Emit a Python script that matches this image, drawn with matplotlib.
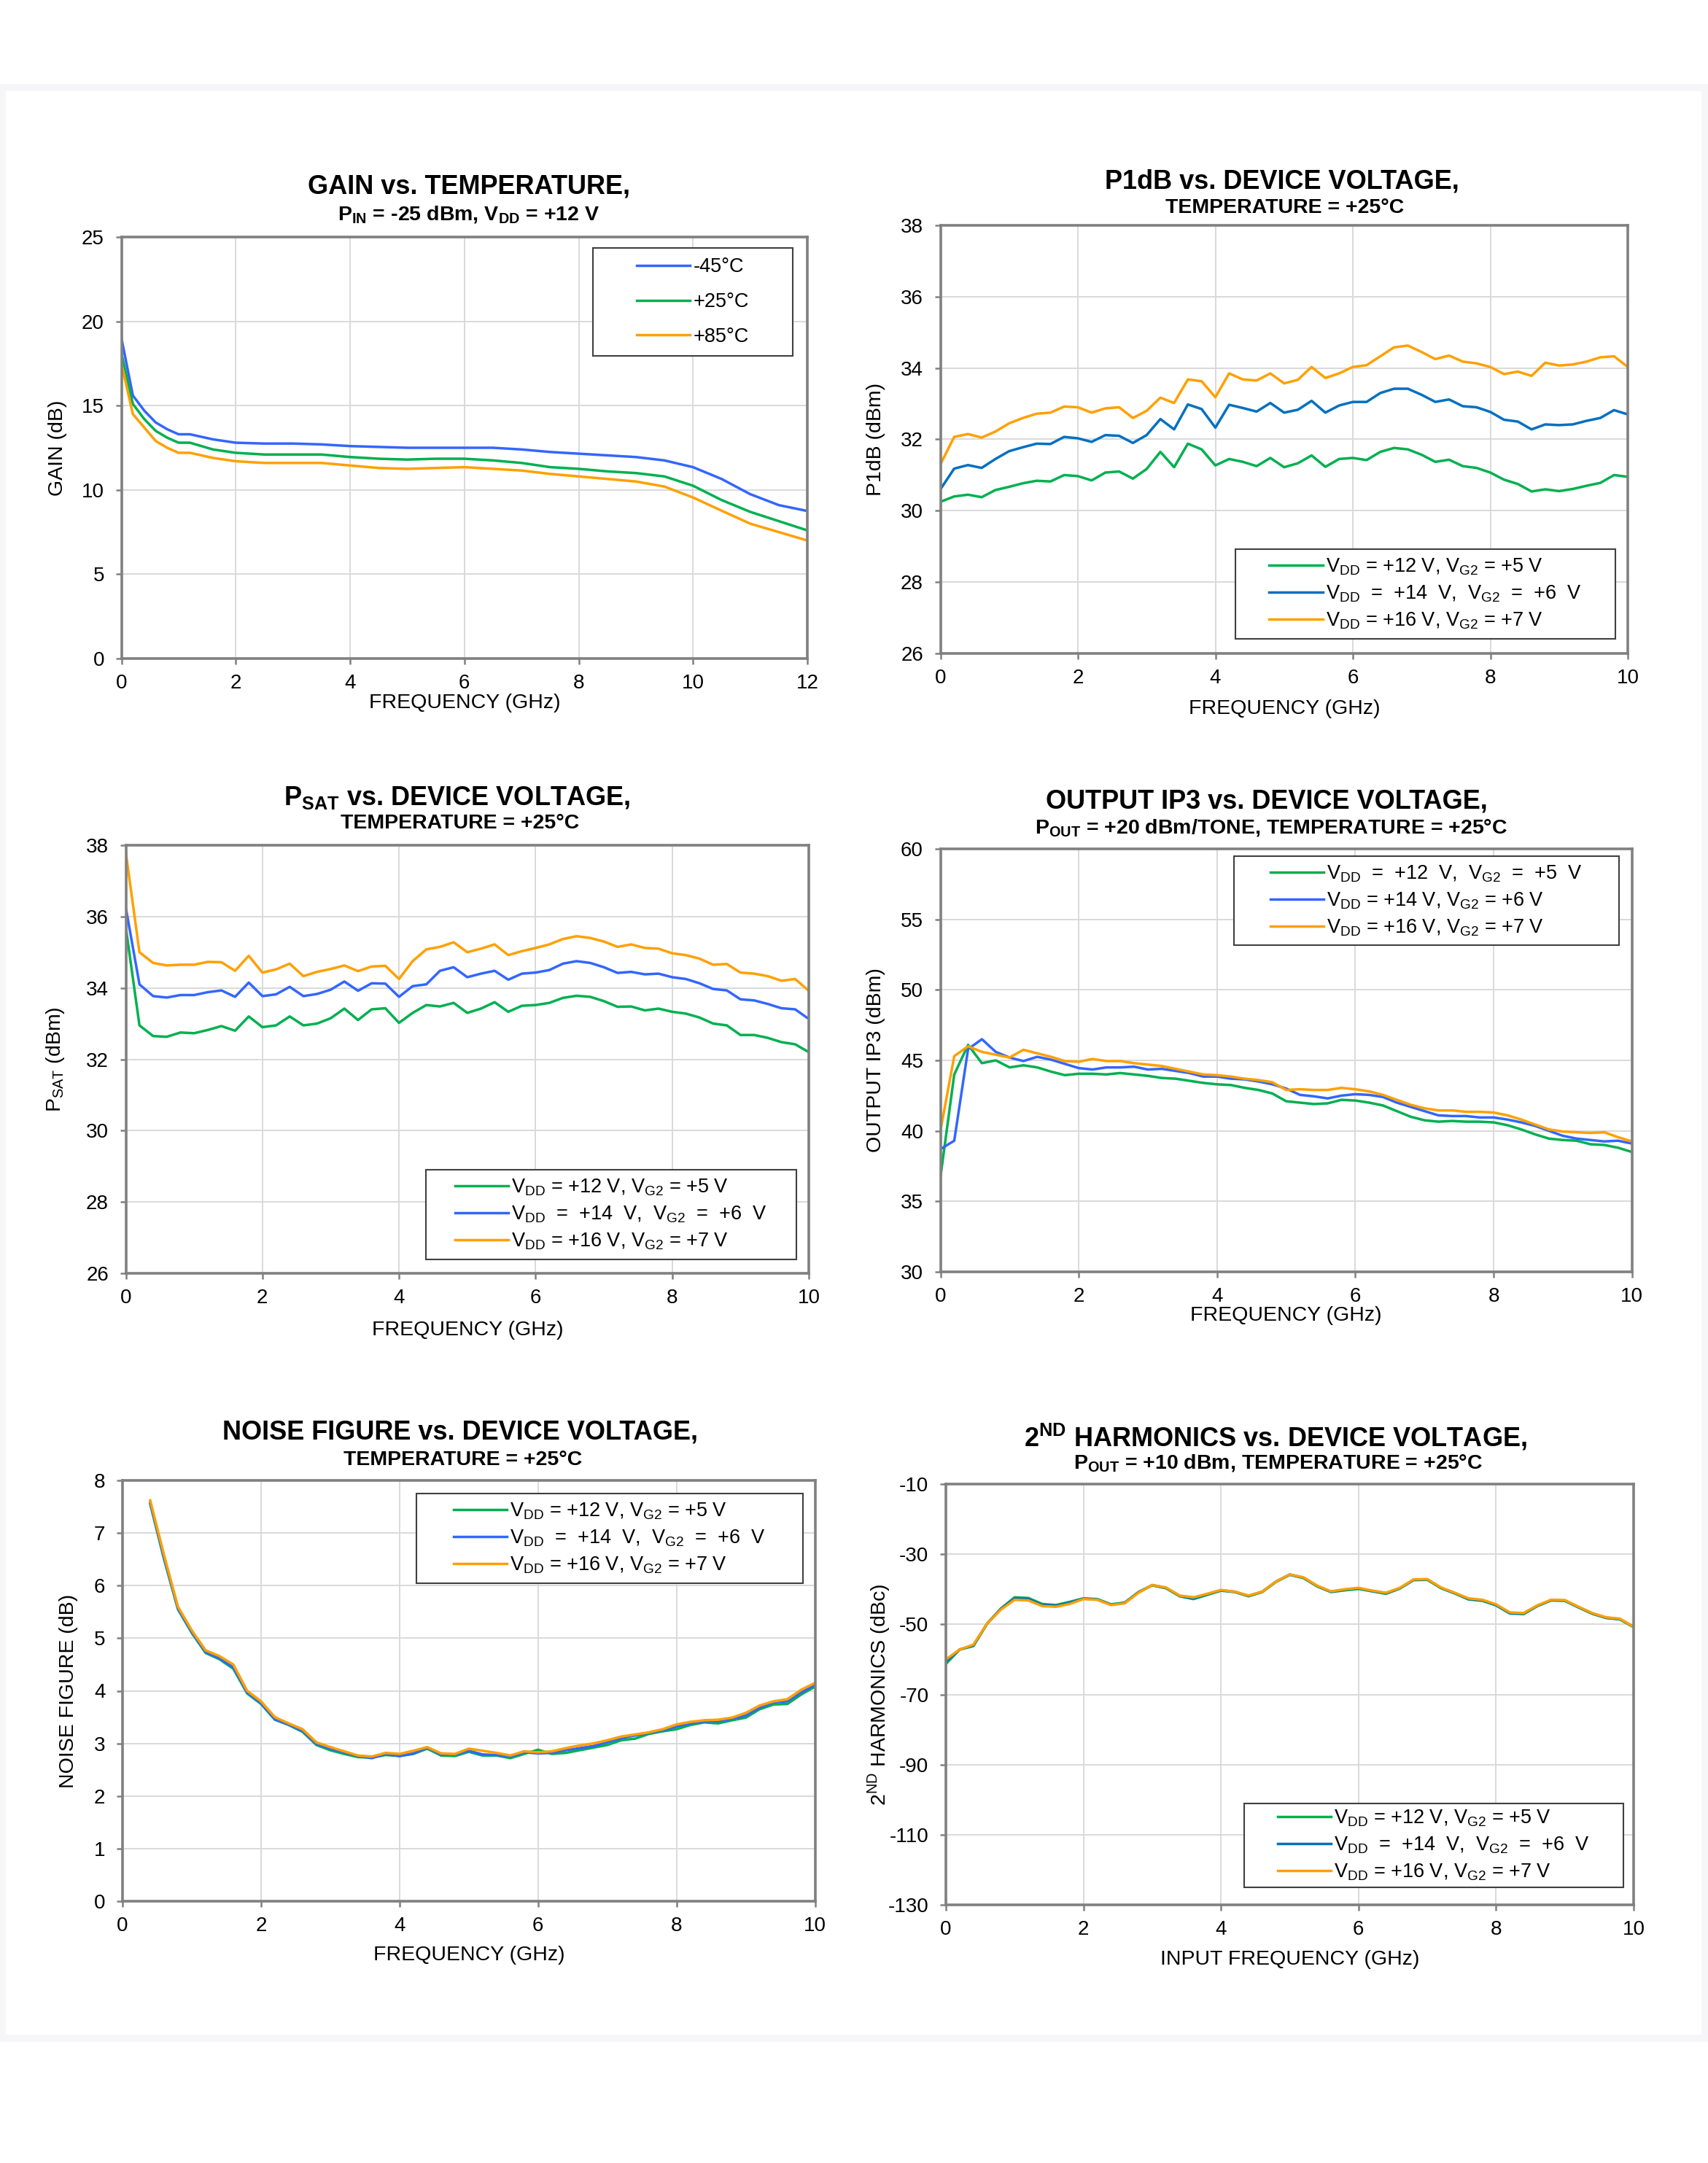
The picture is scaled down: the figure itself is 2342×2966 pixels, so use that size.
import matplotlib
matplotlib.use("Agg")
import matplotlib.pyplot as plt
import matplotlib.patches as patches

plt.rcParams['font.family'] = ['Liberation Sans', 'DejaVu Sans']
plt.rcParams['mathtext.fontset'] = 'custom'
plt.rcParams['mathtext.rm'] = 'Liberation Sans'
plt.rcParams['mathtext.bf'] = 'Liberation Sans:bold'
plt.rcParams['axes.unicode_minus'] = False

W, H = 2342, 2966

GREEN = '#00B050'
BLUE = '#3366FF'
BLUE2 = '#0070C0'
ORANGE = '#FFA000'

# ---- data ----
FREQ = [0.0, 0.2, 0.4, 0.6, 0.8, 1.0, 1.2, 1.4, 1.6, 1.8, 2.0, 2.2, 2.4, 2.6, 2.8,
        3.0, 3.2, 3.4, 3.6, 3.8, 4.0, 4.2, 4.4, 4.6, 4.8, 5.0, 5.2, 5.4, 5.6, 5.8,
        6.0, 6.2, 6.4, 6.6, 6.8, 7.0, 7.2, 7.4, 7.6, 7.8, 8.0, 8.2, 8.4, 8.6, 8.8,
        9.0, 9.2, 9.4, 9.6, 9.8, 10.0]

GAIN_FREQ = [0, 0.2, 0.4, 0.6, 0.8, 1.0, 1.2, 1.6, 2.0, 2.5, 3.0, 3.5, 4.0, 4.5, 5.0,
             5.5, 6.0, 6.5, 7.0, 7.5, 8.0, 8.5, 9.0, 9.5, 10.0, 10.5, 11.0, 11.5, 12.0]
gain_m45 = [19.0, 15.6, 14.7, 14.0, 13.6, 13.3, 13.3, 13.0, 12.8, 12.75, 12.75, 12.7, 12.6, 12.55,
            12.5, 12.5, 12.5, 12.5, 12.4, 12.25, 12.15, 12.05, 11.95, 11.75, 11.35, 10.65, 9.75,
            9.1, 8.75]
gain_p25 = [18.1, 15.1, 14.2, 13.5, 13.1, 12.8, 12.8, 12.4, 12.2, 12.1, 12.1, 12.1, 11.95, 11.85,
            11.8, 11.85, 11.85, 11.75, 11.6, 11.35, 11.25, 11.1, 11.0, 10.8, 10.25, 9.4, 8.7,
            8.15, 7.6]
gain_p85 = [17.5, 14.5, 13.7, 12.9, 12.5, 12.2, 12.2, 11.9, 11.7, 11.6, 11.6, 11.6, 11.45, 11.3,
            11.25, 11.3, 11.35, 11.25, 11.15, 10.95, 10.8, 10.65, 10.5, 10.2, 9.55, 8.77, 8.0,
            7.5, 7.0]

p1db_12v = [30.25, 30.4, 30.45, 30.38, 30.58, 30.67, 30.77, 30.84, 30.82, 31.0, 30.97, 30.85,
            31.07, 31.1, 30.9, 31.17, 31.65, 31.22, 31.88, 31.72, 31.27, 31.45, 31.37, 31.25,
            31.48, 31.22, 31.33, 31.55, 31.23, 31.45, 31.48, 31.42, 31.65, 31.76, 31.72, 31.57,
            31.37, 31.43, 31.25, 31.2, 31.07, 30.87, 30.75, 30.54, 30.6, 30.55, 30.61, 30.7,
            30.78, 31.0, 30.95]
p1db_14v = [30.6, 31.18, 31.28, 31.2, 31.45, 31.67, 31.78, 31.88, 31.87, 32.07, 32.03, 31.93,
            32.12, 32.1, 31.9, 32.12, 32.57, 32.28, 32.98, 32.85, 32.33, 32.97, 32.88, 32.78,
            33.02, 32.75, 32.83, 33.08, 32.75, 32.95, 33.05, 33.05, 33.3, 33.42, 33.42, 33.25,
            33.05, 33.12, 32.93, 32.9, 32.77, 32.55, 32.5, 32.28, 32.42, 32.4, 32.42, 32.52,
            32.6, 32.82, 32.7]
p1db_16v = [31.3, 32.07, 32.15, 32.05, 32.22, 32.45, 32.6, 32.72, 32.75, 32.92, 32.9, 32.75,
            32.87, 32.9, 32.6, 32.8, 33.17, 33.02, 33.68, 33.63, 33.18, 33.85, 33.68, 33.65,
            33.85, 33.57, 33.67, 34.03, 33.72, 33.85, 34.03, 34.08, 34.33, 34.58, 34.63, 34.45,
            34.25, 34.35, 34.18, 34.13, 34.03, 33.83, 33.9, 33.78, 34.15, 34.07, 34.1, 34.18,
            34.3, 34.33, 34.03]

psat_12v = [35.7, 32.95, 32.65, 32.63, 32.75, 32.73, 32.82, 32.93, 32.8, 33.2, 32.9, 32.95,
            33.2, 32.95, 33.0, 33.15, 33.42, 33.1, 33.4, 33.43, 33.02, 33.3, 33.52, 33.48,
            33.58, 33.3, 33.42, 33.6, 33.33, 33.5, 33.52, 33.58, 33.72, 33.78, 33.75, 33.63,
            33.47, 33.48, 33.37, 33.42, 33.33, 33.28, 33.17, 33.0, 32.95, 32.68, 32.68, 32.6,
            32.48, 32.42, 32.2]
psat_14v = [36.25, 34.1, 33.77, 33.73, 33.8, 33.8, 33.88, 33.93, 33.75, 34.15, 33.77, 33.82,
            34.03, 33.77, 33.83, 33.95, 34.18, 33.92, 34.13, 34.12, 33.75, 34.05, 34.1, 34.48,
            34.58, 34.3, 34.4, 34.48, 34.23, 34.4, 34.43, 34.5, 34.68, 34.75, 34.7, 34.58,
            34.42, 34.45, 34.38, 34.4, 34.3, 34.25, 34.13, 33.97, 33.93, 33.68, 33.65, 33.55,
            33.43, 33.4, 33.13]
psat_16v = [37.8, 35.0, 34.7, 34.63, 34.65, 34.65, 34.73, 34.72, 34.48, 34.9, 34.43, 34.52,
            34.68, 34.33, 34.45, 34.53, 34.63, 34.47, 34.6, 34.62, 34.25, 34.75, 35.08, 35.15,
            35.28, 35.0, 35.1, 35.22, 34.92, 35.03, 35.12, 35.22, 35.37, 35.45, 35.4, 35.3,
            35.15, 35.22, 35.12, 35.1, 34.97, 34.92, 34.82, 34.65, 34.67, 34.43, 34.4, 34.33,
            34.2, 34.25, 33.92]

oip3_12v = [36.7, 44.0, 46.1, 44.8, 45.0, 44.5, 44.65, 44.5, 44.2, 43.95, 44.05, 44.05, 44.0,
            44.1, 44.0, 43.9, 43.75, 43.7, 43.55, 43.4, 43.3, 43.25, 43.05, 42.9, 42.65, 42.1,
            42.0, 41.9, 41.95, 42.2, 42.15, 42.0, 41.8, 41.4, 41.0, 40.75, 40.65, 40.7, 40.65,
            40.65, 40.6, 40.4, 40.1, 39.75, 39.45, 39.35, 39.3, 39.05, 39.0, 38.8, 38.5]
oip3_14v = [38.7, 39.3, 45.8, 46.5, 45.6, 45.2, 44.95, 45.25, 45.05, 44.75, 44.45, 44.35, 44.5,
            44.5, 44.55, 44.35, 44.4, 44.25, 44.1, 43.85, 43.85, 43.7, 43.65, 43.5, 43.3, 43.0,
            42.55, 42.45, 42.3, 42.5, 42.6, 42.55, 42.4, 42.0, 41.7, 41.4, 41.1, 41.05, 41.05,
            40.95, 40.95, 40.8, 40.6, 40.35, 40.0, 39.65, 39.45, 39.35, 39.25, 39.3, 39.1]
oip3_16v = [40.0, 45.3, 46.0, 45.6, 45.4, 45.2, 45.75, 45.5, 45.25, 44.95, 44.9, 45.1, 44.95,
            44.95, 44.8, 44.7, 44.6, 44.4, 44.2, 44.0, 43.95, 43.85, 43.7, 43.6, 43.45, 42.9,
            42.95, 42.9, 42.9, 43.05, 42.95, 42.8, 42.55, 42.2, 41.85, 41.6, 41.45, 41.45, 41.35,
            41.35, 41.3, 41.1, 40.8, 40.45, 40.1, 39.95, 39.9, 39.85, 39.9, 39.55, 39.25]

NF_FREQ = FREQ[2:]
nf_12v = [7.55, 6.5, 5.55, 5.1, 4.72, 4.6, 4.42, 3.95, 3.75, 3.45, 3.35, 3.22, 2.97, 2.87, 2.8,
          2.74, 2.73, 2.78, 2.76, 2.8, 2.9, 2.77, 2.76, 2.84, 2.77, 2.77, 2.72, 2.8, 2.88, 2.8,
          2.82, 2.87, 2.92, 2.97, 3.06, 3.09, 3.18, 3.23, 3.27, 3.35, 3.4, 3.38, 3.44, 3.49,
          3.65, 3.74, 3.75, 3.93, 4.08]
nf_14v = [7.58, 6.53, 5.57, 5.12, 4.74, 4.62, 4.45, 3.97, 3.77, 3.46, 3.36, 3.24, 2.99, 2.9, 2.83,
          2.76, 2.72, 2.8, 2.76, 2.81, 2.92, 2.79, 2.79, 2.86, 2.79, 2.78, 2.75, 2.83, 2.81, 2.82,
          2.87, 2.91, 2.95, 3.02, 3.1, 3.15, 3.2, 3.25, 3.32, 3.38, 3.42, 3.42, 3.47, 3.53,
          3.68, 3.78, 3.8, 3.97, 4.11]
nf_16v = [7.62, 6.58, 5.6, 5.15, 4.77, 4.66, 4.5, 4.0, 3.8, 3.5, 3.38, 3.27, 3.02, 2.93, 2.85,
          2.77, 2.75, 2.82, 2.8, 2.86, 2.93, 2.81, 2.8, 2.9, 2.86, 2.82, 2.77, 2.85, 2.83, 2.85,
          2.91, 2.96, 3.0, 3.06, 3.13, 3.17, 3.21, 3.27, 3.36, 3.41, 3.44, 3.45, 3.49, 3.58,
          3.72, 3.8, 3.84, 4.02, 4.15]

h2_12v = [-61.3, -57.2, -56.2, -49.8, -45.5, -42.3, -42.5, -44.2, -44.5, -43.6, -42.6, -42.8,
          -44.3, -43.8, -40.8, -38.9, -39.7, -42.0, -42.8, -41.6, -40.4, -40.8, -42.0, -40.8,
          -37.9, -35.9, -36.8, -39.2, -40.8, -40.3, -39.9, -40.6, -41.3, -39.8, -37.4, -37.3,
          -39.7, -41.2, -42.9, -43.3, -44.6, -46.9, -47.1, -44.8, -43.2, -43.3, -45.2, -47.0,
          -48.2, -48.6, -50.8]
h2_14v = [-60.6, -57.2, -56.0, -49.8, -45.6, -42.6, -42.8, -44.5, -44.7, -43.9, -42.7, -42.9,
          -44.4, -43.9, -40.9, -38.8, -39.6, -41.9, -42.6, -41.4, -40.3, -40.7, -41.9, -40.7,
          -37.8, -35.8, -36.7, -39.1, -40.7, -40.1, -39.7, -40.5, -41.1, -39.7, -37.3, -37.2,
          -39.6, -41.1, -42.8, -43.1, -44.5, -46.8, -46.9, -44.7, -43.1, -43.2, -45.1, -46.9,
          -48.1, -48.5, -50.7]
h2_16v = [-60.0, -57.2, -55.8, -49.8, -45.8, -43.0, -43.2, -44.8, -45.0, -44.2, -42.8, -43.0,
          -44.5, -44.0, -41.0, -38.8, -39.5, -41.8, -42.3, -41.3, -40.2, -40.7, -41.8, -40.7,
          -37.8, -35.8, -36.6, -39.0, -40.6, -40.0, -39.6, -40.4, -41.0, -39.6, -37.2, -37.1,
          -39.5, -41.0, -42.6, -43.0, -44.3, -46.6, -46.8, -44.6, -43.0, -43.1, -45.0, -46.8,
          -48.0, -48.4, -50.7]

TEMP_LABELS = ['-45°C', '+25°C', '+85°C']
VOLT_LABELS = [r'V$_{\mathrm{DD}}$ = +12 V, V$_{\mathrm{G2}}$ = +5 V',
               r'V$_{\mathrm{DD}}$  =  +14  V,  V$_{\mathrm{G2}}$  =  +6  V',
               r'V$_{\mathrm{DD}}$ = +16 V, V$_{\mathrm{G2}}$ = +7 V']
VOLT_LABELS_OIP3 = [r'V$_{\mathrm{DD}}$  =  +12  V,  V$_{\mathrm{G2}}$  =  +5  V',
                    r'V$_{\mathrm{DD}}$ = +14 V, V$_{\mathrm{G2}}$ = +6 V',
                    r'V$_{\mathrm{DD}}$ = +16 V, V$_{\mathrm{G2}}$ = +7 V']


def px_rect(l, t, r, b):
    return [l / W, 1 - b / H, (r - l) / W, (b - t) / H]


def make_axes(fig, box, xlim, xticks, ylim, yticks, xlabel, ylabel, xlab_off, ylab_off):
    l, t, r, b = box
    ax = fig.add_axes(px_rect(l, t, r, b))
    ax.set_xlim(xlim)
    ax.set_ylim(ylim)
    ax.set_xticks(xticks)
    ax.set_yticks(yticks)
    ax.grid(True, color='#d9d9d9', linewidth=1.4)
    ax.set_axisbelow(True)
    for s in ax.spines.values():
        s.set_color('#808080')
        s.set_linewidth(2.6)
    ax.tick_params(direction='out', length=6, width=1.8, color='#808080', labelsize=20)
    ax.tick_params(axis='x', pad=9)
    ax.tick_params(axis='y', pad=11)
    ax.set_xlabel(xlabel, fontsize=20.5)
    ax.set_ylabel(ylabel, fontsize=20.5)
    ax.xaxis.set_label_coords(0.5, -xlab_off / (b - t))
    ax.xaxis.label.set_va('center')
    ax.yaxis.set_label_coords(-ylab_off / (r - l), 0.5)
    ax.yaxis.label.set_va('center')
    ax.yaxis.label.set_ha('center')
    return ax


def add_titles(fig, title, tx, ty, sub, sx, sy):
    fig.text(tx / W, 1 - ty / H, title, fontsize=26, fontweight='bold', ha='center', va='center')
    fig.text(sx / W, 1 - sy / H, sub, fontsize=20.5, fontweight='bold', ha='center', va='center')


def add_legend(ax, handles, labels, box, spacing):
    x0, y0, x1, y1 = box
    rect = patches.Rectangle((x0, y0), x1 - x0, y1 - y0, transform=ax.transAxes,
                             fc='white', ec='#404040', lw=1.5, zorder=4)
    ax.add_patch(rect)
    leg = ax.legend(handles, labels, loc='center', bbox_to_anchor=((x0 + x1) / 2, (y0 + y1) / 2),
                    frameon=False, fontsize=19.5, handlelength=2.7, handletextpad=0.15,
                    labelspacing=spacing, borderpad=0)
    leg.set_zorder(5)


fig = plt.figure(figsize=(W / 100, H / 100), dpi=100)
# faint card outline round the whole sheet
fig.patches.append(patches.Rectangle((3 / W, 1 - 2795 / H), 2335 / W, 2675 / H,
                                     transform=fig.transFigure, fill=False,
                                     ec='#f6f6f8', lw=7))
LW = 2.5

# gain vs temperature
ax = make_axes(fig, (166.5, 325, 1107, 903), (0, 12), range(0, 13, 2), (0, 25), range(0, 26, 5),
               'FREQUENCY (GHz)', 'GAIN (dB)', 61, 88)
h = [ax.plot(GAIN_FREQ, gain_m45, color=BLUE, lw=LW)[0],
     ax.plot(GAIN_FREQ, gain_p25, color=GREEN, lw=LW)[0],
     ax.plot(GAIN_FREQ, gain_p85, color=ORANGE, lw=LW)[0]]
add_legend(ax, h, TEMP_LABELS, (0.687, 0.718, 0.979, 0.974), 0.8)
add_titles(fig, 'GAIN vs. TEMPERATURE,', 643, 256,
           r'P$_{\mathbf{IN}}$ = -25 dBm, V$_{\mathbf{DD}}$ = +12 V', 643, 295)

# P1dB
ax = make_axes(fig, (1289.5, 309, 2232, 896), (0, 10), range(0, 11, 2), (26, 38), range(26, 39, 2),
               'FREQUENCY (GHz)', 'P1dB (dBm)', 76, 88)
h = [ax.plot(FREQ, p1db_12v, color=GREEN, lw=LW)[0],
     ax.plot(FREQ, p1db_14v, color=BLUE2, lw=LW)[0],
     ax.plot(FREQ, p1db_16v, color=ORANGE, lw=LW)[0]]
add_legend(ax, h, VOLT_LABELS, (0.429, 0.034, 0.982, 0.244), 0.35)
add_titles(fig, 'P1dB vs. DEVICE VOLTAGE,', 1758, 249, 'TEMPERATURE = +25°C', 1762, 285)

# PSAT
ax = make_axes(fig, (172.5, 1159, 1109, 1746), (0, 10), range(0, 11, 2), (26, 38), range(26, 39, 2),
               'FREQUENCY (GHz)', r'P$_{\mathrm{SAT}}$ (dBm)', 78, 97)
h = [ax.plot(FREQ, psat_12v, color=GREEN, lw=LW)[0],
     ax.plot(FREQ, psat_14v, color=BLUE, lw=LW)[0],
     ax.plot(FREQ, psat_16v, color=ORANGE, lw=LW)[0]]
add_legend(ax, h, VOLT_LABELS, (0.439, 0.032, 0.982, 0.242), 0.35)
add_titles(fig, r'P$_{\mathbf{SAT}}$ vs. DEVICE VOLTAGE,', 627, 1094, 'TEMPERATURE = +25°C', 631, 1129)

# output IP3
ax = make_axes(fig, (1289.5, 1164, 2237.7, 1744), (0, 10), range(0, 11, 2), (30, 60), range(30, 61, 5),
               'FREQUENCY (GHz)', 'OUTPUT IP3 (dBm)', 60, 88)
h = [ax.plot(FREQ, oip3_12v, color=GREEN, lw=LW)[0],
     ax.plot(FREQ, oip3_14v, color=BLUE, lw=LW)[0],
     ax.plot(FREQ, oip3_16v, color=ORANGE, lw=LW)[0]]
add_legend(ax, h, VOLT_LABELS_OIP3, (0.424, 0.772, 0.981, 0.983), 0.35)
add_titles(fig, 'OUTPUT IP3 vs. DEVICE VOLTAGE,', 1737, 1099,
           r'P$_{\mathbf{OUT}}$ = +20 dBm/TONE, TEMPERATURE = +25°C', 1743, 1136)

# noise figure
ax = make_axes(fig, (168, 2030, 1117.6, 2607), (0, 10), range(0, 11, 2), (0, 8), range(0, 9, 1),
               'FREQUENCY (GHz)', 'NOISE FIGURE (dB)', 74, 74)
h = [ax.plot(NF_FREQ, nf_12v, color=GREEN, lw=LW)[0],
     ax.plot(NF_FREQ, nf_14v, color=BLUE, lw=LW)[0],
     ax.plot(NF_FREQ, nf_16v, color=ORANGE, lw=LW)[0]]
add_legend(ax, h, VOLT_LABELS, (0.424, 0.756, 0.982, 0.969), 0.35)
add_titles(fig, 'NOISE FIGURE vs. DEVICE VOLTAGE,', 631, 1964, 'TEMPERATURE = +25°C', 635, 2002)

# 2nd harmonics
ax = make_axes(fig, (1297, 2035, 2240, 2612), (0, 10), range(0, 11, 2), (-130, -10),
               range(-130, -9, 20), 'INPUT FREQUENCY (GHz)', r'2$^{\mathrm{ND}}$ HARMONICS (dBc)',
               75, 92)
h = [ax.plot(FREQ, h2_12v, color=GREEN, lw=LW)[0],
     ax.plot(FREQ, h2_14v, color=BLUE2, lw=LW)[0],
     ax.plot(FREQ, h2_16v, color=ORANGE, lw=LW)[0]]
add_legend(ax, h, VOLT_LABELS, (0.434, 0.042, 0.985, 0.241), 0.35)
add_titles(fig, r'2$^{\mathbf{ND}}$ HARMONICS vs. DEVICE VOLTAGE,', 1749, 1971,
           r'P$_{\mathbf{OUT}}$ = +10 dBm, TEMPERATURE = +25°C', 1752, 2007)

fig.savefig('out.png', dpi=100, facecolor='white')
